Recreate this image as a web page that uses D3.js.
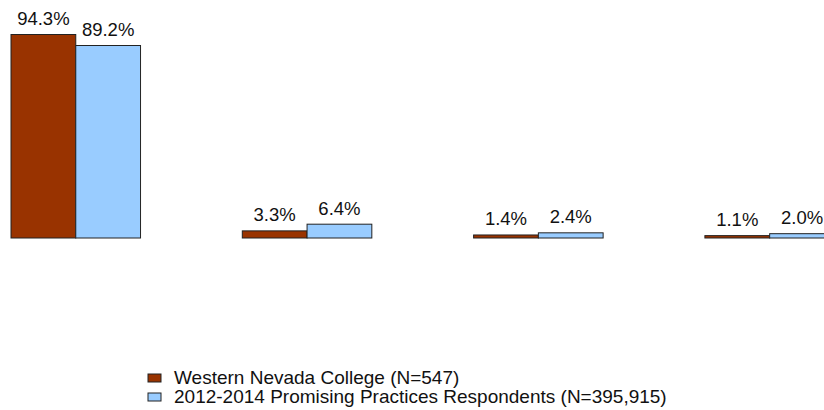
<!DOCTYPE html>
<html>
<head>
<meta charset="utf-8">
<script src="https://cdn.jsdelivr.net/npm/d3@7"></script>
<style>
  body { margin: 0; background: #fff; }
  svg { display: block; font-family: "Liberation Sans", Arial, sans-serif; }
</style>
</head>
<body>
<div id="chart"></div>
<script>
const categories = ['Response 1', 'Response 2', 'Response 3', 'Response 4'];
const seriesNames = ['Western Nevada College (N=547)', '2012-2014 Promising Practices Respondents (N=395,915)'];
const collegeValues = [94.3, 3.3, 1.4, 1.1];
const respondentValues = [89.2, 6.4, 2.4, 2.0];
const colors = ['#993300', '#99ccff'];

const width = 824, height = 410;
const baseline = 238;

const svg = d3.select('#chart').append('svg')
  .attr('width', width)
  .attr('height', height);

// plot runs past the right edge like the original
const step = 231.3, padIn = 0.44;
const x0 = d3.scaleBand()
  .domain(categories)
  .range([11, 11 + step * (categories.length - padIn)])
  .paddingInner(padIn)
  .paddingOuter(0);

const x1 = d3.scaleBand()
  .domain([0, 1])
  .range([0, x0.bandwidth()]);

const y = d3.scaleLinear()
  .domain([0, 94.3])
  .range([baseline, 34.5]);

const rows = categories.map((c, i) => ({
  cat: c,
  vals: [collegeValues[i], respondentValues[i]]
}));

const groups = svg.append('g')
  .selectAll('g')
  .data(rows)
  .enter().append('g')
    .attr('transform', d => `translate(${x0(d.cat)},0)`);

groups.selectAll('rect')
  .data(d => d.vals.map((v, k) => ({v, k})))
  .enter().append('rect')
    .attr('x', d => x1(d.k))
    .attr('y', d => y(d.v))
    .attr('width', x1.bandwidth())
    .attr('height', d => baseline - y(d.v))
    .attr('fill', d => colors[d.k])
    .attr('stroke', '#222')
    .attr('stroke-width', 1);

groups.selectAll('text')
  .data(d => d.vals.map((v, k) => ({v, k})))
  .enter().append('text')
    .attr('x', d => x1(d.k) + x1.bandwidth() / 2)
    .attr('y', d => y(d.v) - 9.5)
    .attr('text-anchor', 'middle')
    .attr('font-size', 18.5)
    .attr('fill', '#111')
    .text(d => d.v.toFixed(1) + '%');

const legend = svg.append('g')
  .selectAll('g')
  .data(seriesNames)
  .enter().append('g')
    .attr('transform', (d, i) => `translate(148,${374 + i * 19})`);

legend.append('rect')
  .attr('width', 13)
  .attr('height', 8)
  .attr('fill', (d, i) => colors[i])
  .attr('stroke', '#222')
  .attr('stroke-width', 1);

legend.append('text')
  .attr('x', 26)
  .attr('y', 9.5)
  .attr('font-size', 19)
  .attr('fill', '#111')
  .text(d => d);
</script>
</body>
</html>
